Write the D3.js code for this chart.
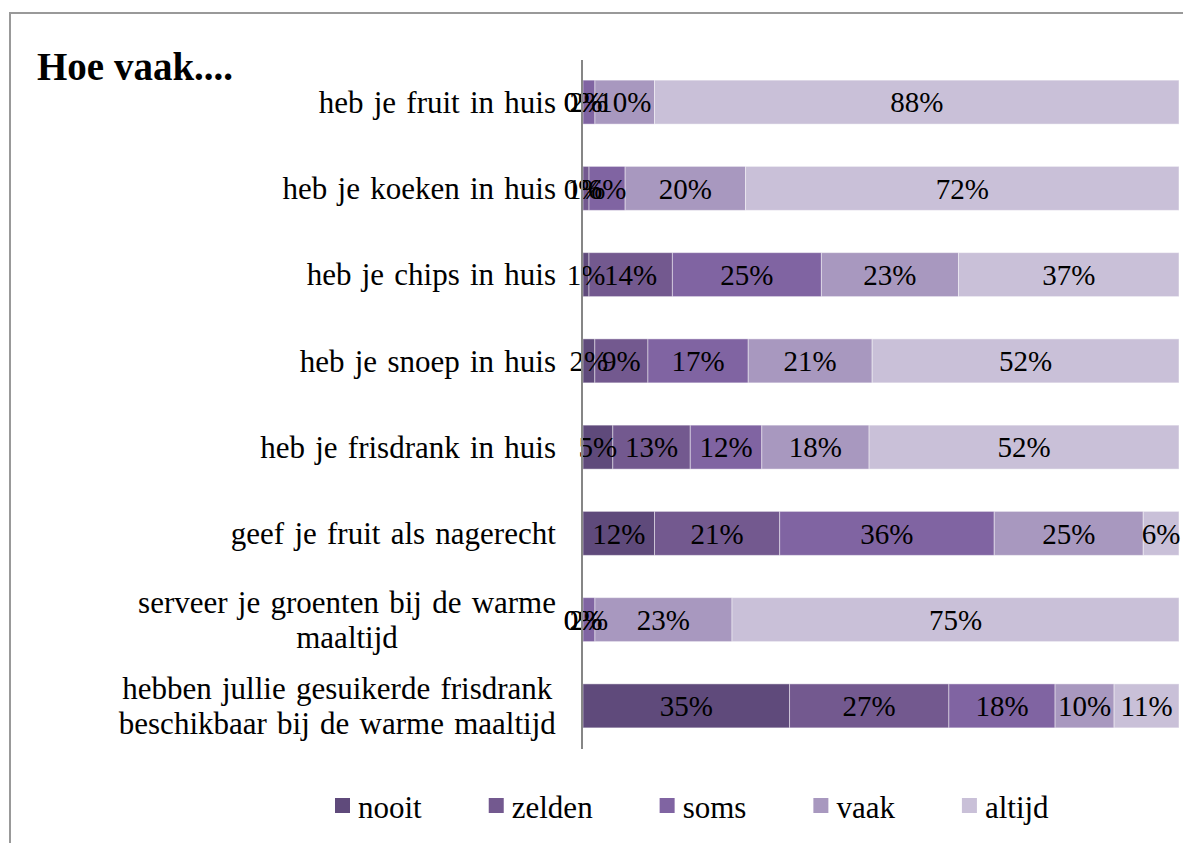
<!DOCTYPE html>
<html>
<head>
<meta charset="utf-8">
<script src="https://cdn.jsdelivr.net/npm/d3@7"></script>
<style>
  html, body { margin: 0; padding: 0; background: #fff; }
  svg { display: block; font-family: "Liberation Serif", "Times New Roman", serif; }
</style>
</head>
<body>
<svg id="chart" width="1183" height="843"></svg>
<script>
// Survey: "Hoe vaak...." — 100% stacked horizontal bars
const categories = [
  "heb je fruit in huis",
  "heb je koeken in huis",
  "heb je chips in huis",
  "heb je snoep in huis",
  "heb je frisdrank in huis",
  "geef je fruit als nagerecht",
  "serveer je groenten bij de warme\nmaaltijd",
  "hebben jullie gesuikerde frisdrank\nbeschikbaar bij de warme maaltijd"
];
const seriesNames = ["nooit", "zelden", "soms", "vaak", "altijd"];
const nooit  = [0, 0, 1, 2, 5, 12, 0, 35];
const zelden = [0, 1, 14, 9, 13, 21, 0, 27];
const soms   = [2, 6, 25, 17, 12, 36, 2, 18];
const vaak   = [10, 20, 23, 21, 18, 25, 23, 10];
const altijd = [88, 72, 37, 52, 52, 6, 75, 11];
const colors = ["#5f4a7b", "#73598f", "#8064a2", "#a898bf", "#c9c0d8"];
const title = "Hoe vaak....";

const seriesValues = [nooit, zelden, soms, vaak, altijd];
const rows = categories.map((c, i) => {
  const r = { category: c };
  seriesNames.forEach((s, j) => { r[s] = seriesValues[j][i]; });
  return r;
});

const svg = d3.select("#chart");

// outer frame
svg.append("rect")
  .attr("x", 10).attr("y", 13)
  .attr("width", 1300).attr("height", 1000)
  .attr("fill", "#fff").attr("stroke", "#999").attr("stroke-width", 2);

// title
svg.append("text")
  .attr("x", 37).attr("y", 80)
  .attr("font-size", 39).attr("font-weight", "bold")
  .attr("fill", "#000")
  .text(title);

const x = d3.scaleLinear().domain([0, 1]).range([583, 1179]);
const y = d3.scaleBand().domain(categories).range([59, 749]).paddingInner(0.49).paddingOuter(0.245);

const stack = d3.stack().keys(seriesNames).offset(d3.stackOffsetExpand);
const stacked = stack(rows);

const layers = svg.append("g").selectAll("g")
  .data(stacked).join("g")
  .attr("fill", (d, i) => colors[i]);

layers.selectAll("rect")
  .data(d => d).join("rect")
  .attr("x", d => x(d[0]))
  .attr("y", d => y(d.data.category))
  .attr("width", d => x(d[1]) - x(d[0]))
  .attr("height", y.bandwidth())
  .attr("stroke", "#fff").attr("stroke-opacity", 0.45).attr("stroke-width", 1);

// value labels
const labels = svg.append("g").attr("font-size", 29).attr("fill", "#000").attr("text-anchor", "middle");
stacked.forEach((layer) => {
  layer.forEach(d => {
    labels.append("text")
      .attr("x", (x(d[0]) + x(d[1])) / 2)
      .attr("y", y(d.data.category) + y.bandwidth() / 2)
      .attr("dy", "0.35em")
      .text(d.data[layer.key] + "%");
  });
});

// vertical category axis line
svg.append("line")
  .attr("x1", 582).attr("x2", 582)
  .attr("y1", 60).attr("y2", 749)
  .attr("stroke", "#868686").attr("stroke-width", 2);

// category labels (multi-line labels centered on their widest line)
const catG = svg.append("g").attr("font-size", 31).attr("word-spacing", 2.5).attr("fill", "#000");
const labelRight = 556;
const lineH = 35;
categories.forEach(c => {
  const lines = c.split("\n");
  const cy = y(c) + y.bandwidth() / 2;
  const t = catG.append("text").attr("text-anchor", "middle");
  const spans = lines.map((l, i) => t.append("tspan")
    .attr("y", cy + (i - (lines.length - 1) / 2) * lineH)
    .attr("dy", "0.35em")
    .text(l));
  const maxW = d3.max(spans, s => s.node().getBBox().width);
  spans.forEach(s => s.attr("x", labelRight - maxW / 2));
});

// legend
const legend = svg.append("g").attr("font-size", 31);
let lx = 335;
seriesNames.forEach((name, i) => {
  legend.append("rect")
    .attr("x", lx).attr("y", 798)
    .attr("width", 15).attr("height", 15)
    .attr("fill", colors[i]);
  const t = legend.append("text")
    .attr("x", lx + 23).attr("y", 818)
    .attr("fill", "#000")
    .text(name);
  lx += 23 + t.node().getComputedTextLength() + 67;
});
</script>
</body>
</html>
